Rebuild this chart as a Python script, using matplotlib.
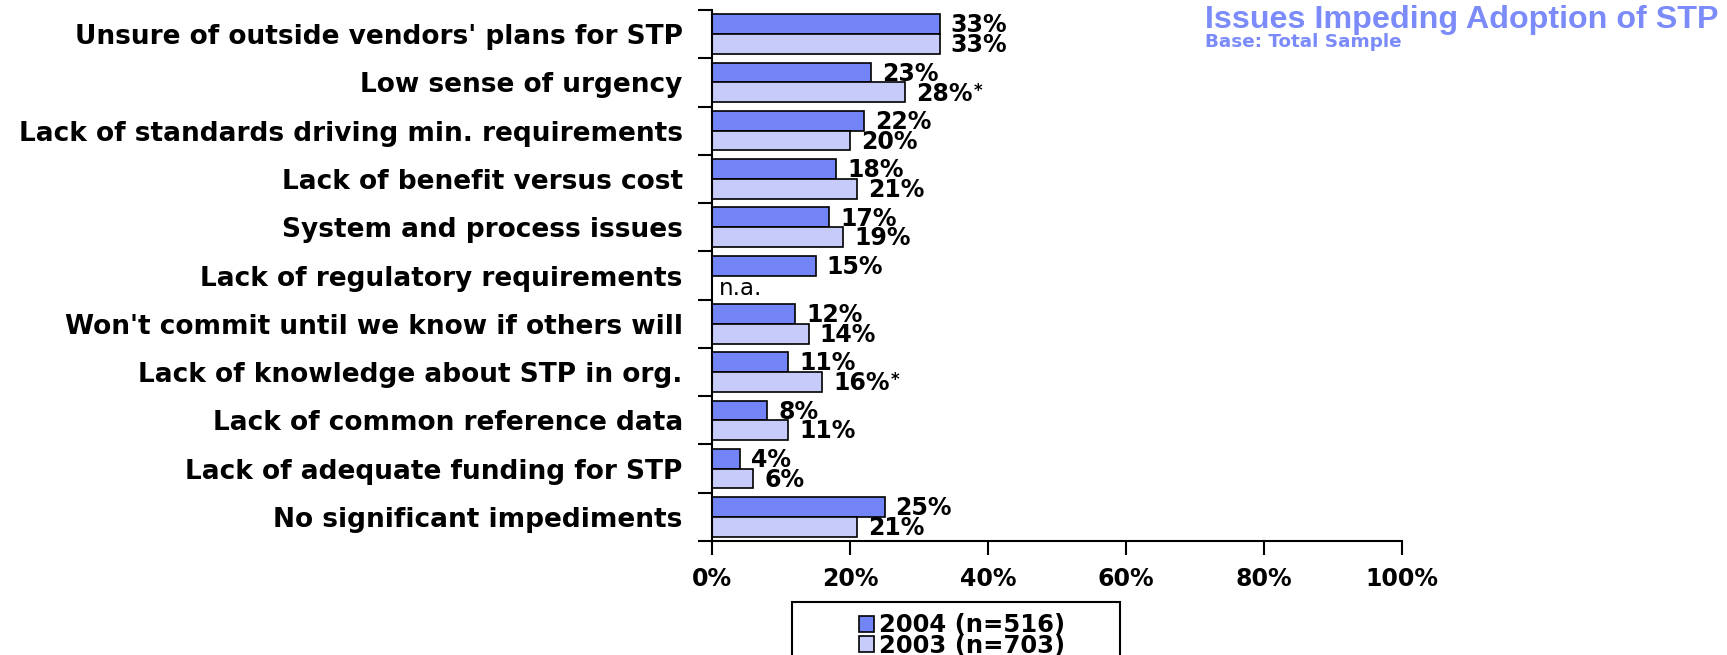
import numpy as np
import matplotlib
matplotlib.use("Agg")
import matplotlib.pyplot as plt
from matplotlib.patches import Rectangle, Patch
from matplotlib.ticker import FixedLocator, PercentFormatter

plt.rcParams['font.family'] = ['DejaVu Sans']

categories = [
    "Unsure of outside vendors' plans for STP",
    "Low sense of urgency",
    "Lack of standards driving min. requirements",
    "Lack of benefit versus cost",
    "System and process issues",
    "Lack of regulatory requirements",
    "Won't commit until we know if others will",
    "Lack of knowledge about STP in org.",
    "Lack of common reference data",
    "Lack of adequate funding for STP",
    "No significant impediments",
]
values_2004 = [33, 23, 22, 18, 17, 15, 12, 11, 8, 4, 25]
values_2003 = [33, 28, 20, 21, 19, None, 14, 16, 11, 6, 21]
significant_2003 = [False, True, False, False, False, False, False, True, False, False, False]
x_ticks = [0, 20, 40, 60, 80, 100]

c2004 = "#7384F6"
c2003 = "#C6CBFA"
title_color = "#7B8BFA"

W, H = 1727, 655
fig = plt.figure(figsize=(W / 100, H / 100), dpi=100)
ax = fig.add_axes([712 / W, 1 - 541 / H, (1402 - 712) / W, (541 - 10) / H])

y = np.arange(len(categories))
h = 0.41
v03 = [np.nan if v is None else v for v in values_2003]
ax.barh(y - h / 2, values_2004, height=h, color=c2004, edgecolor="black", linewidth=1.2)
ax.barh(y + h / 2, v03, height=h, color=c2003, edgecolor="black", linewidth=1.2)

lab_kw = dict(fontsize=17, fontweight="bold", va="baseline", ha="left", textcoords="offset points")
for i, v in enumerate(values_2004):
    ax.annotate(f"{v}%", xy=(v, y[i]), xytext=(8, 1.2), **lab_kw)
for i, v in enumerate(values_2003):
    if v is None:
        ax.annotate("n.a.", xy=(0, y[i] + h), xytext=(5, 0.5), textcoords="offset points",
                    fontsize=16.5, va="baseline", ha="left")
        continue
    t = ax.annotate(f"{v}%", xy=(v, y[i] + h), xytext=(8, 1.2), **lab_kw)
    if significant_2003[i]:
        ax.annotate("*", xy=(1, 1), xycoords=t, xytext=(0.5, 0), textcoords="offset points",
                    fontsize=12, fontweight="bold", va="top", ha="left")

ax.set_xlim(0, 100)
ax.set_ylim(len(categories) - 0.5, -0.5)
ax.set_xticks(x_ticks)
ax.xaxis.set_major_formatter(PercentFormatter(decimals=0))
ax.tick_params(axis="x", direction="out", length=10, width=1.5, pad=9, labelsize=17)
for lbl in ax.get_xticklabels():
    lbl.set_fontweight("bold")

ax.set_yticks(y)
ax.set_yticklabels(categories, fontsize=19, fontweight="bold")
ax.tick_params(axis="y", which="major", length=0, pad=21)
ax.yaxis.set_minor_locator(FixedLocator(np.arange(len(categories) + 1) - 0.5))
ax.tick_params(axis="y", which="minor", direction="out", length=10, width=1.5)

for s in ["top", "right"]:
    ax.spines[s].set_visible(False)
for s in ["left", "bottom"]:
    ax.spines[s].set_linewidth(1.5)

fig.text(1205 / W, 1 - 28 / H, "Issues Impeding Adoption of STP", color=title_color,
         fontsize=23.2, fontweight="bold", va="baseline", ha="left", family="Liberation Sans")
fig.text(1205 / W, 1 - 47 / H, "Base: Total Sample", color=title_color,
         fontsize=13.2, fontweight="bold", va="baseline", ha="left")

# legend frame (runs off the bottom like the original)
fig.patches.append(Rectangle((792 / W, -10 / H), (1120 - 792) / W, (H - 602 + 10) / H,
                             transform=fig.transFigure, fill=False, edgecolor="black", linewidth=1.5))
handles = [Patch(facecolor=c2004, edgecolor="black", linewidth=1.2),
           Patch(facecolor=c2003, edgecolor="black", linewidth=1.2)]
fig.legend(handles, ["2004 (n=516)", "2003 (n=703)"], loc="upper center",
           bbox_to_anchor=(962 / W, 1 - 601 / H), frameon=False,
           prop=dict(size=17.5, weight="bold"), handlelength=0.65, handleheight=0.65,
           handletextpad=0.2, labelspacing=-0.14, borderpad=0)

fig.savefig("out.png", dpi=100)
